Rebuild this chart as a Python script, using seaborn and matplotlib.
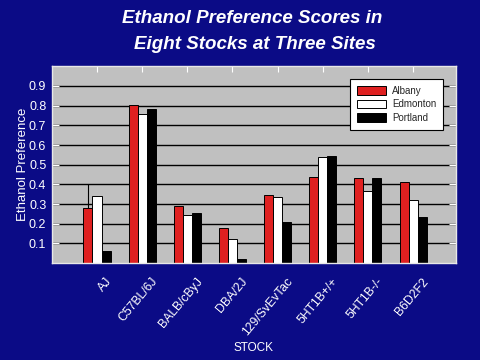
import matplotlib
matplotlib.use("Agg")
import matplotlib.pyplot as plt
import matplotlib.transforms as mtransforms
import pandas as pd
import seaborn as sns

stocks = ["AJ", "C57BL/6J", "BALB/cByJ", "DBA/2J", "129/SvEvTac", "5HT1B+/+", "5HT1B-/-", "B6D2F2"]
sites = ["Albany", "Edmonton", "Portland"]
albany = [0.278, 0.805, 0.288, 0.180, 0.347, 0.438, 0.430, 0.413]
edmonton = [0.340, 0.757, 0.246, 0.125, 0.334, 0.537, 0.367, 0.322]
portland = [0.060, 0.785, 0.253, 0.020, 0.210, 0.544, 0.430, 0.233]
aj_albany_err_upper = 0.122
y_ticks = [0.1, 0.2, 0.3, 0.4, 0.5, 0.6, 0.7, 0.8, 0.9]

navy = "#0b0b86"
colors = {"Albany": "#ff0000", "Edmonton": "#ffffff", "Portland": "#000000"}

rows = []
for site, vals in zip(sites, [albany, edmonton, portland]):
    for stock, v in zip(stocks, vals):
        rows.append({"stock": stock, "site": site, "pref": v})
df = pd.DataFrame(rows)

sns.set_style("white")
plt.rcParams["font.family"] = ["Liberation Sans", "DejaVu Sans"]

fig = plt.figure(figsize=(4.8, 3.6), dpi=100, facecolor=navy)
ax = fig.add_axes([0.108, 0.269, 0.842, 0.547])
ax.set_facecolor("#c0c0c0")

ax.set_axisbelow(True)
ax.yaxis.grid(True, color="black", linewidth=1)

sns.barplot(data=df, x="stock", y="pref", hue="site", order=stocks, hue_order=sites,
            palette=colors, width=0.6, edgecolor="black", linewidth=0.7,
            errorbar=None, ax=ax)

# single upper error bar on AJ / Albany
p = ax.containers[0][0]
cx = p.get_x() + p.get_width() / 2
ax.errorbar([cx], [p.get_height()], yerr=[[0], [aj_albany_err_upper]], fmt="none",
            ecolor="black", elinewidth=0.8, capsize=0)

ax.set_xlim(-1.0, 7.95)
ax.set_ylim(0, 1.0)
ax.set_yticks(y_ticks)
ax.set_yticklabels([f"{t:.1f}" for t in y_ticks], color="white", fontsize=9)
ax.tick_params(axis="y", direction="in", length=5, color="white", right=True, left=True, pad=4)
ax.tick_params(axis="x", direction="in", length=4, color="white", top=True, bottom=False, pad=9)
shift = mtransforms.ScaledTranslation(6 / 72, 0, fig.dpi_scale_trans)
for lbl in ax.get_xticklabels():
    lbl.set_rotation(50)
    lbl.set_ha("right")
    lbl.set_rotation_mode("anchor")
    lbl.set_color("white")
    lbl.set_fontsize(8.8)
    lbl.set_transform(lbl.get_transform() + shift)

for s in ax.spines.values():
    s.set_color("#e8e8e8")
    s.set_linewidth(1)

ax.set_xlabel("STOCK", color="white", fontsize=8.5, labelpad=3)
ax.set_ylabel("Ethanol Preference", color="white", fontsize=9.5, labelpad=0)

leg = ax.legend(loc="upper right", bbox_to_anchor=(0.968, 0.934), frameon=True, fancybox=False,
                edgecolor="black", facecolor="white", framealpha=1, fontsize=7,
                handlelength=3.0, handleheight=1.0, borderpad=0.7, labelspacing=0.35,
                handletextpad=0.6, borderaxespad=0)
leg.get_frame().set_linewidth(0.8)

fig.text(0.525, 0.948, "Ethanol Preference Scores in", ha="center", va="center",
         color="white", fontsize=13.5, fontweight="bold", fontstyle="italic")
fig.text(0.53, 0.877, "Eight Stocks at Three Sites", ha="center", va="center",
         color="white", fontsize=13.5, fontweight="bold", fontstyle="italic")

fig.savefig("out.png", dpi=100, facecolor=navy)
